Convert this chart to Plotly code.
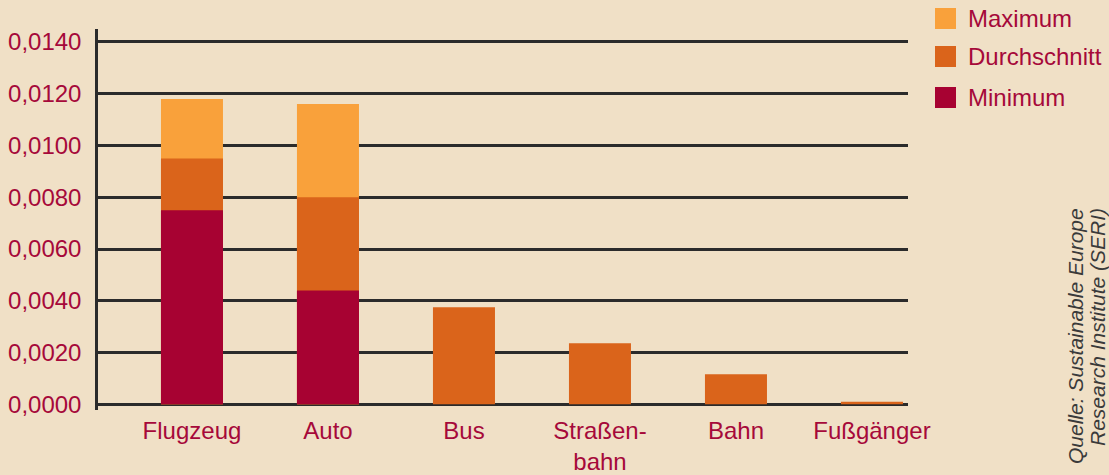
import plotly.graph_objects as go

categories = ["Flugzeug", "Auto", "Bus", "Straßen-<br>bahn", "Bahn", "Fußgänger"]
maximum = [0.0118, 0.0116, None, None, None, None]
durchschnitt = [0.0095, 0.0080, 0.00375, 0.00236, 0.00116, 0.0001]
minimum = [0.0075, 0.0044, None, None, None, None]
y_ticks = [0.0, 0.002, 0.004, 0.006, 0.008, 0.010, 0.012, 0.014]
y_ticklabels = ["0,0000", "0,0020", "0,0040", "0,0060", "0,0080", "0,0100", "0,0120", "0,0140"]

BG = "#F0E0C6"
RED = "#A6093A"
GRID = "#2b2b2b"
C_MAX = "#F9A13B"
C_AVG = "#DA641B"
C_MIN = "#A70232"
FONT = "Liberation Sans, Arial, sans-serif"
FS = 24

W, H = 1109, 475
L, R, T, B = 98, 908, 29, 410

def px(x):
    return (x - L) / (R - L)

def py(y):
    return (B - y) / (B - T)

xs = list(range(len(categories)))
fig = go.Figure()
for name, vals, col in [("Maximum", maximum, C_MAX),
                        ("Durchschnitt", durchschnitt, C_AVG),
                        ("Minimum", minimum, C_MIN)]:
    fig.add_trace(go.Bar(x=xs, y=vals, name=name, marker=dict(color=col, line=dict(width=0)),
                         width=0.456, showlegend=False))

fig.update_layout(
    width=W, height=H,
    barmode="overlay",
    paper_bgcolor=BG, plot_bgcolor=BG,
    margin=dict(l=L, r=W - R, t=T, b=H - B, pad=0, autoexpand=False),
    font=dict(family=FONT, size=FS, color=RED),
)
fig.update_xaxes(range=[-0.691, 5.265], tickvals=xs, ticktext=categories,
                 showgrid=False, zeroline=False, showline=False, ticks="",
                 ticklabelstandoff=4, automargin=False,
                 tickfont=dict(size=FS, color=RED), fixedrange=True)
fig.update_yaxes(range=[-0.00022, 0.0145], tickvals=y_ticks, ticktext=y_ticklabels,
                 showgrid=True, gridcolor=GRID, gridwidth=2.5,
                 zeroline=False, showline=True, linecolor=GRID, linewidth=2.5,
                 ticks="", ticklabelstandoff=9, automargin=False,
                 tickfont=dict(size=FS, color=RED), fixedrange=True)

# legend (drawn manually to match the large square swatches)
legend_items = [("Maximum", C_MAX, 8), ("Durchschnitt", C_AVG, 46), ("Minimum", C_MIN, 87)]
for name, col, top in legend_items:
    fig.add_shape(type="rect", xref="paper", yref="paper",
                  x0=px(935), x1=px(956), y0=py(top + 21), y1=py(top),
                  fillcolor=col, line=dict(width=0))
    fig.add_annotation(xref="paper", yref="paper", x=px(966), y=py(top + 10.5),
                       text=name, showarrow=False, xanchor="left", yanchor="middle",
                       font=dict(size=FS, color=RED, family=FONT))

for line, xc in [("Quelle: Sustainable Europe", 1075), ("Research Institute (SERI)", 1097)]:
    fig.add_annotation(xref="paper", yref="paper", x=px(xc), y=py(206),
                       text="<i>" + line + "</i>",
                       showarrow=False, textangle=-90, xanchor="center", yanchor="top",
                       font=dict(size=21, color="#3a3a3a", family=FONT))

fig.write_html("out.html", config={"displayModeBar": False},
               post_script="document.body.style.margin='0';document.body.style.overflow='hidden';")
